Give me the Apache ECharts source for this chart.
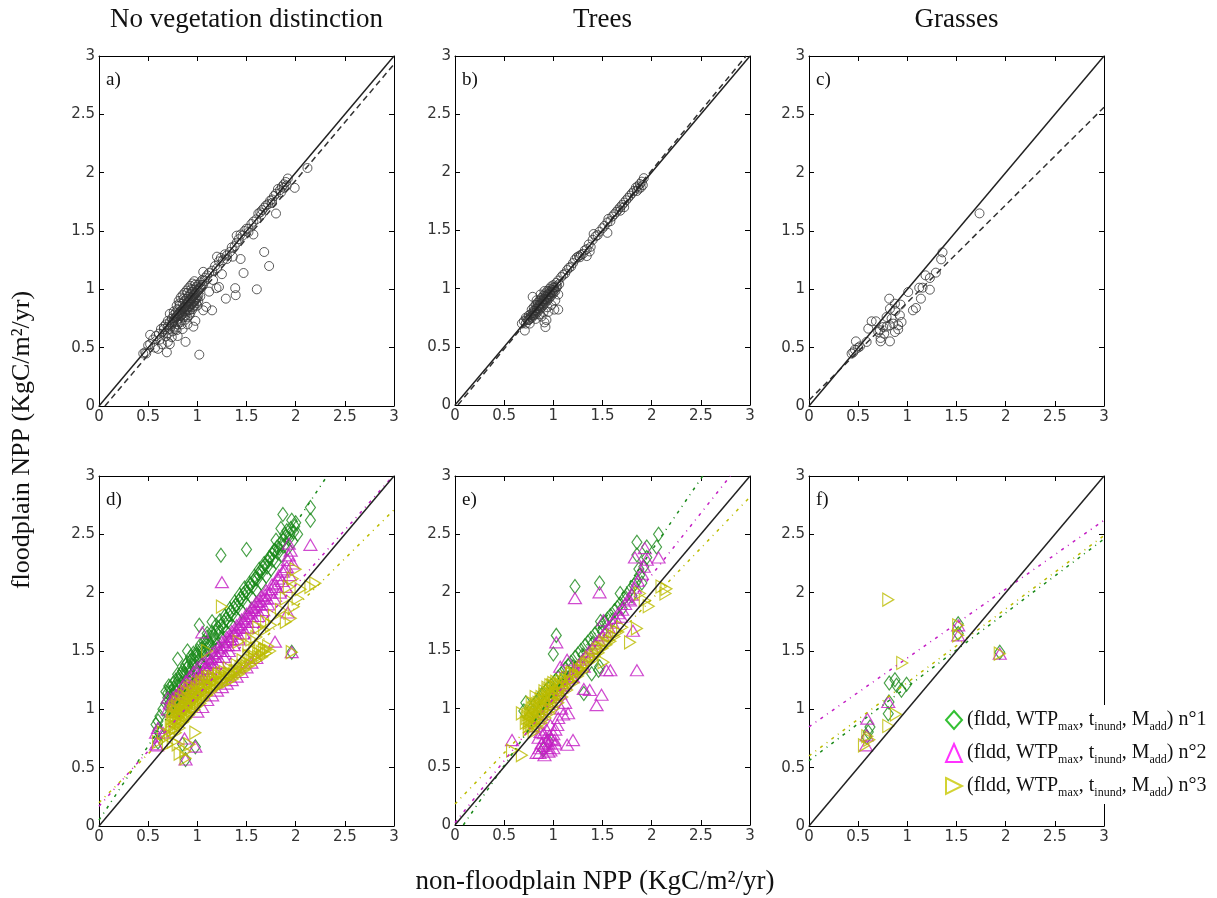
<!DOCTYPE html>
<html>
<head>
<meta charset="utf-8">
<title>floodplain NPP</title>
<script src="https://cdn.jsdelivr.net/npm/echarts@6/dist/echarts.min.js"></script>
<style>
html, body { margin: 0; padding: 0; background: #fff; }
#chart { width: 1217px; height: 898px; }
</style>
</head>
<body>
<div id="chart"></div>
<script>
// 列标题 / 子图编号
var columnTitles = ['No vegetation distinction', 'Trees', 'Grasses'];
var panelLabels = ['a)', 'b)', 'c)', 'd)', 'e)', 'f)'];
var legendNames = ['n°1', 'n°2', 'n°3'];
var axisTicks = [0, 0.5, 1, 1.5, 2, 2.5, 3];

// 1:1 线
var oneToOne = [[0, 0], [3, 3]];

// a) 不分植被
var aPoints = [
    [0.66,0.66],[0.68,0.70],[0.70,0.68],[0.72,0.72],[0.72,0.66],[0.74,0.75],[0.74,0.70],[0.76,0.73],[0.76,0.78],[0.77,0.68],
    [0.78,0.76],[0.78,0.80],[0.79,0.72],[0.80,0.78],[0.80,0.83],[0.81,0.75],[0.82,0.80],[0.82,0.86],[0.83,0.72],[0.84,0.82],
    [0.84,0.78],[0.85,0.88],[0.86,0.84],[0.86,0.76],[0.87,0.90],[0.88,0.86],[0.88,0.80],[0.89,0.92],[0.90,0.88],[0.90,0.82],
    [0.91,0.94],[0.92,0.90],[0.92,0.85],[0.93,0.96],[0.94,0.92],[0.94,0.87],[0.95,0.98],[0.96,0.94],[0.96,0.89],[0.97,1.00],
    [0.98,0.96],[0.98,0.91],[0.99,1.02],[1.00,0.98],[1.00,0.93],[1.01,1.04],[1.02,1.00],[1.03,1.06],[1.04,1.02],[1.05,1.08],
    [1.06,1.04],[1.08,1.10],[0.79,0.86],[0.81,0.90],[0.83,0.93],[0.85,0.95],[0.87,0.97],[0.89,0.99],[0.91,1.01],[0.93,1.03],
    [0.95,1.05],[0.97,1.07],[0.84,0.70],[0.88,0.74],[0.90,0.76],[0.93,0.80],[0.95,0.83],[0.97,0.86],[0.99,0.88],[1.01,0.90],
    [1.03,0.94],[0.75,0.64],[0.78,0.66],[0.80,0.70],[0.70,0.62],[0.68,0.60],[0.65,0.62],[0.63,0.66],[0.61,0.62],[0.58,0.60],
    [0.55,0.57],[0.52,0.53],[0.50,0.52],[0.47,0.46],[0.45,0.45],[0.48,0.45],[0.52,0.61],[0.60,0.49],[0.64,0.53],[0.69,0.46],
    [0.72,0.53],[0.74,0.59],[0.79,0.65],[0.80,0.60],[0.88,0.55],[0.92,0.78],[0.96,0.68],[0.98,0.73],[1.02,0.44],[1.06,0.82],
    [1.09,0.85],[1.15,0.82],[0.72,0.79],[0.66,0.68],[0.70,0.55],[0.62,0.57],[0.57,0.50],[0.85,0.66],[0.90,0.70],[1.06,1.15],
    [1.10,1.12],[1.12,1.14],[1.15,1.16],[1.18,1.20],[1.20,1.18],[1.22,1.24],[1.24,1.27],[1.20,1.28],[1.26,1.25],[1.28,1.30],
    [1.30,1.29],[1.33,1.32],[1.35,1.36],[1.38,1.37],[1.40,1.40],[1.40,1.46],[1.42,1.43],[1.44,1.47],[1.46,1.46],[1.48,1.50],
    [1.50,1.52],[1.52,1.52],[1.55,1.56],[1.57,1.58],[1.60,1.60],[1.62,1.65],[1.64,1.66],[1.66,1.68],[1.68,1.70],[1.70,1.72],
    [1.72,1.73],[1.74,1.76],[1.76,1.77],[1.78,1.80],[1.80,1.82],[1.82,1.86],[1.84,1.85],[1.86,1.88],[1.88,1.90],[1.90,1.92],
    [1.92,1.95],[1.88,1.87],[1.91,1.89],[1.85,1.83],[1.76,1.74],[1.65,1.64],[1.52,1.49],[1.195,1.01],[1.22,1.02],[1.29,0.92],
    [1.39,0.95],[1.385,1.01],[1.25,1.13],[1.47,1.14],[1.44,1.26],[1.68,1.32],[1.73,1.20],[1.57,1.47],[1.80,1.65],[1.99,1.87],
    [2.12,2.04],[1.605,1.00],[1.12,0.98],[1.16,1.08],[1.30,1.26],[1.36,1.28],
    [0.70,0.73],[0.73,0.68],[0.75,0.72],[0.77,0.75],[0.79,0.77],[0.80,0.74],[0.81,0.79],[0.83,0.81],[0.83,0.77],[0.85,0.83],
    [0.85,0.79],[0.87,0.85],[0.87,0.81],[0.89,0.87],[0.89,0.83],[0.91,0.89],[0.91,0.85],[0.93,0.91],[0.93,0.87],[0.95,0.93],
    [0.95,0.88],[0.97,0.95],[0.97,0.90],[0.99,0.97],[0.99,0.92],[1.01,0.99],[1.01,0.95],[1.03,1.01],[1.05,1.04],[1.07,1.07],
    [0.86,0.92],[0.90,0.97],[0.94,1.00],[0.98,1.04],[0.82,0.88],[0.76,0.81],[0.88,0.78],[0.92,0.82],[0.96,0.85],[1.00,0.86]
];
var aFit = [[0.06, 0], [3, 2.93]];

// b) 树木
var bPoints = [
    [0.68,0.70],[0.70,0.72],[0.72,0.70],[0.72,0.75],[0.74,0.73],[0.75,0.77],[0.76,0.74],[0.77,0.78],[0.78,0.75],[0.78,0.82],
    [0.79,0.79],[0.80,0.77],[0.80,0.84],[0.81,0.81],[0.82,0.78],[0.82,0.86],[0.83,0.83],[0.84,0.80],[0.84,0.88],[0.85,0.85],
    [0.86,0.82],[0.86,0.90],[0.87,0.87],[0.88,0.84],[0.88,0.92],[0.89,0.89],[0.90,0.86],[0.90,0.94],[0.91,0.91],[0.92,0.88],
    [0.92,0.96],[0.93,0.93],[0.94,0.90],[0.94,0.98],[0.95,0.95],[0.96,0.92],[0.96,1.00],[0.97,0.97],[0.98,0.94],[0.98,1.02],
    [0.99,0.99],[1.00,0.96],[1.00,1.03],[1.01,1.01],[1.02,0.98],[1.03,1.05],[1.04,1.02],[1.05,1.07],[1.06,1.04],[1.08,1.10],
    [0.86,0.78],[0.90,0.80],[0.94,0.84],[0.98,0.86],[1.02,0.90],[1.05,0.95],[0.76,0.70],[0.82,0.74],[0.79,0.93],[0.71,0.64],
    [0.91,0.71],[0.92,0.67],[0.93,0.73],[1.01,0.82],[1.05,0.82],[0.88,0.76],[0.95,0.80],[0.83,0.90],[0.87,0.95],[0.91,0.98],
    [1.10,1.12],[1.12,1.13],[1.14,1.16],[1.16,1.18],[1.18,1.19],[1.20,1.22],[1.22,1.25],[1.24,1.27],[1.26,1.28],[1.28,1.29],
    [1.30,1.30],[1.32,1.33],[1.34,1.34],[1.36,1.38],[1.38,1.36],[1.40,1.42],[1.41,1.47],[1.43,1.45],[1.45,1.46],[1.47,1.49],
    [1.50,1.52],[1.52,1.54],[1.55,1.57],[1.56,1.60],[1.55,1.48],[1.58,1.58],[1.60,1.62],[1.62,1.64],[1.64,1.66],[1.66,1.68],
    [1.68,1.70],[1.70,1.72],[1.72,1.74],[1.74,1.76],[1.76,1.78],[1.78,1.80],[1.80,1.82],[1.82,1.84],[1.84,1.87],[1.86,1.88],
    [1.88,1.90],[1.90,1.92],[1.92,1.95],[1.89,1.87],[1.91,1.89],[1.87,1.86],[1.85,1.84],[1.37,1.32],[1.34,1.28],[1.27,1.27],
    [1.72,1.70],[1.68,1.67],
    [0.73,0.74],[0.75,0.73],[0.77,0.76],[0.79,0.77],[0.81,0.79],[0.83,0.81],[0.85,0.83],[0.87,0.85],[0.89,0.87],[0.91,0.89],
    [0.93,0.91],[0.95,0.93],[0.97,0.95],[0.99,0.97],[1.01,0.99],[1.03,1.01],[0.80,0.81],[0.84,0.86],[0.88,0.90],[0.92,0.94],
    [0.96,0.98],[1.00,1.01],[0.86,0.86],[0.90,0.91],[0.94,0.95]
];
var bFit = [[0.03, 0], [2.96, 3]];

// c) 草地
var cPoints = [
    [1.734,1.651],[1.358,1.317],[1.344,1.257],[1.29,1.143],[1.185,1.12],[1.229,1.097],[1.229,0.997],[1.121,1.014],[1.155,1.014],[1.138,0.92],
    [1.087,0.84],[1.057,0.82],[1.009,0.977],[0.816,0.92],[0.931,0.869],[0.941,0.72],[0.924,0.777],[0.877,0.814],[0.874,0.877],[0.823,0.834],
    [0.84,0.749],[0.789,0.763],[0.823,0.691],[0.874,0.634],[0.823,0.554],[0.728,0.554],[0.728,0.583],[0.721,0.649],[0.681,0.726],[0.637,0.726],
    [0.603,0.663],[0.755,0.677],[0.79,0.68],[0.765,0.62],[0.907,0.657],[0.907,0.691],[0.586,0.549],[0.477,0.554],[0.518,0.511],[0.467,0.483],
    [0.433,0.449],[0.50,0.50],[0.704,0.634],[0.857,0.706],[0.45,0.46]
];
var cFit = [[0, 0.05], [3, 2.56]];

// d) 不分植被, 三组参数
var dGreen = [
    [0.58,0.87],[0.60,0.82],[0.60,0.90],[0.62,0.94],[0.65,1.00],[0.68,1.05],[0.68,1.15],[0.70,1.10],[0.72,1.18],[0.72,1.05],
    [0.74,1.12],[0.75,1.22],[0.76,1.08],[0.78,1.15],[0.78,1.25],[0.80,1.20],[0.80,1.30],[0.82,1.12],[0.82,1.28],[0.84,1.22],
    [0.85,1.33],[0.86,1.18],[0.88,1.30],[0.88,1.38],[0.90,1.25],[0.90,1.40],[0.92,1.33],[0.93,1.45],[0.94,1.28],[0.95,1.38],
    [0.96,1.48],[0.98,1.35],[0.98,1.45],[1.00,1.50],[1.00,1.30],[1.02,1.42],[1.03,1.55],[1.05,1.38],[1.05,1.48],[1.07,1.58],
    [1.08,1.45],[1.10,1.52],[1.10,1.62],[1.12,1.42],[1.13,1.56],[1.15,1.66],[1.16,1.50],[1.18,1.60],[1.19,1.72],[1.20,1.55],
    [1.22,1.66],[1.23,1.76],[1.25,1.60],[1.26,1.70],[1.28,1.80],[1.30,1.66],[1.31,1.75],[1.33,1.86],[1.35,1.72],[1.36,1.82],
    [1.38,1.92],[1.40,1.78],[1.41,1.88],[1.43,1.98],[1.45,1.84],[1.46,1.94],[1.48,2.04],[1.50,1.90],[1.51,2.00],[1.53,2.08],
    [1.55,1.96],[1.56,2.05],[1.58,2.14],[1.60,2.02],[1.61,2.12],[1.63,2.20],[1.65,2.08],[1.66,2.18],[1.68,2.25],[1.70,2.14],
    [1.71,2.22],[1.73,2.30],[1.75,2.20],[1.77,2.28],[1.78,2.36],[1.80,2.26],[1.82,2.34],[1.84,2.42],[1.86,2.32],[1.88,2.40],
    [1.90,2.48],[1.92,2.38],[1.93,2.46],[1.95,2.55],[1.97,2.44],[1.98,2.52],[2.00,2.60],[2.02,2.50],[1.24,2.32],[1.50,2.37],
    [1.87,2.67],[1.96,2.62],[2.15,2.73],[2.15,2.62],[1.15,1.75],[1.10,1.65],[1.02,1.72],[0.90,1.50],[0.80,1.43],[0.71,1.20],
    [1.96,1.49],[0.88,0.57],[0.62,0.79],[0.60,0.72],[1.80,2.45],[1.85,2.55],[0.85,0.70],[0.98,0.68],
    [0.70,1.14],[0.73,1.15],[0.76,1.18],[0.79,1.22],[0.81,1.25],[0.83,1.30],[0.86,1.30],[0.89,1.35],[0.91,1.37],[0.94,1.42],
    [0.97,1.42],[0.99,1.47],[1.01,1.46],[1.04,1.52],[1.06,1.52],[1.09,1.57],[1.11,1.57],[1.14,1.62],[1.17,1.63],[1.19,1.66],
    [1.21,1.70],[1.24,1.72],[1.27,1.75],[1.29,1.77],[1.32,1.81],[1.34,1.84],[1.37,1.87],[1.39,1.89],[1.42,1.93],[1.44,1.95],
    [1.47,1.99],[1.49,2.01],[1.52,2.04],[1.54,2.07],[1.57,2.10],[1.59,2.12],[1.62,2.16],[1.64,2.18],[1.67,2.22],[1.69,2.24],
    [1.72,2.27],[1.74,2.30],[1.76,2.33],[1.79,2.36],[1.81,2.39],[1.83,2.38],[1.87,2.45],[1.89,2.50],[1.91,2.53],[1.94,2.50],
    [1.99,2.57]
];
var dMagenta = [
    [0.58,0.80],[0.60,0.84],[0.58,0.70],[0.70,1.00],[0.72,1.05],[0.74,0.98],[0.75,1.10],[0.78,1.02],[0.78,1.12],[0.80,1.08],
    [0.82,1.16],[0.84,1.05],[0.85,1.20],[0.86,1.12],[0.88,1.24],[0.90,1.10],[0.90,1.18],[0.92,1.28],[0.94,1.15],[0.95,1.22],
    [0.96,1.32],[0.98,1.18],[1.00,1.26],[1.00,1.36],[1.02,1.22],[1.04,1.30],[1.05,1.40],[1.07,1.26],[1.08,1.35],[1.10,1.44],
    [1.12,1.30],[1.13,1.40],[1.15,1.48],[1.17,1.35],[1.18,1.45],[1.20,1.53],[1.22,1.40],[1.23,1.50],[1.25,1.58],[1.27,1.45],
    [1.28,1.55],[1.30,1.62],[1.32,1.50],[1.33,1.60],[1.35,1.67],[1.37,1.55],[1.38,1.65],[1.40,1.72],[1.42,1.60],[1.43,1.70],
    [1.45,1.77],[1.47,1.65],[1.48,1.75],[1.50,1.82],[1.52,1.70],[1.53,1.80],[1.55,1.87],[1.57,1.75],[1.58,1.85],[1.60,1.92],
    [1.62,1.80],[1.63,1.90],[1.65,1.97],[1.67,1.85],[1.68,1.95],[1.70,2.02],[1.72,1.90],[1.74,2.00],[1.76,2.07],[1.78,1.95],
    [1.80,2.05],[1.82,2.12],[1.84,2.00],[1.86,2.10],[1.88,2.20],[1.90,2.05],[1.92,2.28],[1.94,2.15],[1.95,2.36],[1.97,2.25],
    [1.10,1.08],[1.15,1.12],[1.20,1.16],[1.25,1.19],[1.30,1.22],[1.35,1.25],[1.40,1.28],[1.45,1.32],[1.50,1.36],[1.55,1.40],
    [1.60,1.44],[1.05,1.02],[1.00,0.98],[0.70,1.10],[1.25,2.09],[1.05,1.66],[2.15,2.41],[1.93,2.42],[1.92,1.83],[1.79,1.58],
    [1.96,1.49],[0.88,0.57],[0.98,0.68],[0.87,0.75],[0.59,0.69],[0.65,0.80],
    [0.76,1.04],[0.80,1.13],[0.83,1.10],[0.87,1.18],[0.91,1.22],[0.93,1.20],[0.97,1.26],[1.01,1.30],[1.03,1.27],[1.06,1.33],
    [1.09,1.38],[1.11,1.35],[1.14,1.43],[1.16,1.40],[1.19,1.48],[1.21,1.45],[1.24,1.53],[1.26,1.50],[1.29,1.58],[1.31,1.55],
    [1.34,1.63],[1.36,1.60],[1.39,1.68],[1.41,1.65],[1.44,1.73],[1.46,1.70],[1.49,1.78],[1.51,1.75],[1.54,1.83],[1.56,1.80],
    [1.59,1.88],[1.61,1.85],[1.64,1.93],[1.66,1.90],[1.69,1.98],[1.71,1.95],[1.75,2.03],[1.79,2.08],[1.83,2.15],[1.87,2.18],
    [1.91,2.22],[1.93,2.32]
];
var dYellow = [
    [0.74,0.82],[0.74,0.90],[0.75,0.98],[0.76,0.86],[0.77,0.94],[0.77,1.02],[0.78,0.80],[0.78,0.90],[0.79,0.98],[0.80,1.06],
    [0.80,0.85],[0.81,0.93],[0.82,1.01],[0.83,0.88],[0.83,1.09],[0.84,0.96],[0.85,1.04],[0.86,0.90],[0.86,1.12],[0.87,0.99],
    [0.88,1.07],[0.89,0.93],[0.89,1.15],[0.90,1.02],[0.91,1.10],[0.92,0.96],[0.92,1.18],[0.93,1.05],[0.94,1.13],[0.95,0.99],
    [0.95,1.20],[0.96,1.08],[0.97,1.16],[0.98,1.02],[0.99,1.11],[1.00,1.22],[1.00,1.05],[1.02,1.14],[1.03,1.08],[1.04,1.24],
    [1.05,1.17],[1.06,1.10],[1.08,1.20],[1.09,1.13],[1.10,1.27],[1.12,1.16],[1.13,1.23],[1.15,1.19],[1.16,1.28],[1.18,1.22],
    [1.20,1.25],[1.22,1.30],[1.24,1.27],[1.26,1.22],[1.28,1.32],[1.30,1.27],[1.32,1.35],[1.34,1.30],[1.36,1.26],[1.38,1.33],
    [1.40,1.38],[1.42,1.30],[1.44,1.36],[1.46,1.42],[1.48,1.34],[1.50,1.40],[1.52,1.46],[1.54,1.38],[1.56,1.44],[1.58,1.50],
    [1.60,1.42],[1.62,1.48],[1.64,1.54],[1.66,1.45],[1.68,1.51],[1.70,1.48],[1.72,1.54],[1.74,1.50],[1.52,1.55],[1.60,1.62],
    [1.68,1.68],[1.75,1.72],[1.55,1.60],[1.62,1.70],[1.70,1.75],[1.78,1.80],[1.85,1.85],[1.90,1.95],[1.93,2.05],[1.97,2.12],
    [2.00,2.20],[1.95,1.78],[1.98,1.88],[2.02,1.95],[2.05,2.03],[2.15,2.05],[2.20,2.08],[1.90,1.75],[1.25,1.88],[1.10,1.50],
    [1.42,1.58],[0.60,0.72],[0.70,0.70],[0.75,0.72],[0.80,0.70],[0.82,0.62],[0.88,0.64],[0.92,0.70],[0.98,0.80],[0.72,0.78],
    [0.65,0.80],[1.96,1.49],[0.88,0.58],
    [0.73,0.86],[0.75,0.93],[0.76,1.00],[0.77,0.83],[0.78,0.95],[0.79,1.03],[0.80,0.90],[0.81,0.98],[0.82,0.84],[0.83,0.95],
    [0.84,1.03],[0.85,0.89],[0.86,0.98],[0.87,1.06],[0.88,0.92],[0.89,1.01],[0.90,1.09],[0.91,0.95],[0.92,1.04],[0.93,1.12],
    [0.94,0.98],[0.95,1.07],[0.96,1.15],[0.97,1.00],[0.98,1.09],[0.99,1.17],[1.00,1.03],[1.01,1.12],[1.02,1.20],[1.03,1.05],
    [1.04,1.14],[1.05,1.22],[1.06,1.08],[1.07,1.16],[1.08,1.24],[1.10,1.12],[1.11,1.20],[1.12,1.28],[1.14,1.15],[1.15,1.23],
    [1.17,1.18],[1.18,1.27],[1.20,1.20],[1.21,1.29],[1.23,1.22],[1.25,1.31],[1.27,1.25],[1.29,1.29],[1.31,1.24],[1.33,1.31],
    [1.35,1.28],[1.37,1.30],[1.40,1.33],[1.43,1.33],[1.46,1.37],[1.50,1.37],[1.54,1.42],[1.58,1.45],[1.62,1.45],[1.66,1.49],
    [1.70,1.51]
];
var dGreenFit = [[0, 0.05], [2.32, 3]];
var dMagentaFit = [[0, 0.17], [2.99, 3]];
var dYellowFit = [[0, 0.2], [3, 2.71]];

// e) 树木, 三组参数
var eGreen = [
    [0.80,0.98],[0.82,1.05],[0.85,1.08],[0.88,1.12],[0.90,1.05],[0.92,1.15],[0.95,1.18],[0.98,1.20],[1.00,1.16],[1.02,1.24],
    [1.05,1.27],[1.08,1.30],[1.10,1.26],[1.12,1.34],[1.15,1.37],[1.18,1.40],[1.20,1.36],[1.22,1.44],[1.25,1.47],[1.28,1.50],
    [1.30,1.46],[1.32,1.54],[1.35,1.57],[1.38,1.60],[1.40,1.56],[1.42,1.64],[1.45,1.67],[1.48,1.70],[1.50,1.66],[1.52,1.74],
    [1.55,1.77],[1.58,1.80],[1.60,1.76],[1.62,1.84],[1.65,1.87],[1.68,1.90],[1.70,1.86],[1.72,1.95],[1.75,1.98],[1.78,2.02],
    [1.80,1.97],[1.82,2.06],[1.85,2.10],[1.88,2.15],[1.90,2.08],[1.92,2.22],[1.95,2.30],[1.85,2.32],[1.87,2.20],[1.22,2.05],
    [1.47,2.08],[1.03,1.63],[1.00,1.47],[2.07,2.50],[1.85,2.43],[1.95,2.39],[2.05,2.39],[1.68,1.99],[1.46,1.33],[1.39,1.30],
    [1.31,1.13],[1.47,1.36],[0.72,1.05],[0.70,0.98],[0.90,0.65],[0.95,0.72],[1.48,1.75]
];
var eMagenta = [
    [1.47,2.00],[1.22,1.95],[1.03,1.57],[1.14,1.42],[1.07,1.36],[1.85,1.33],[1.54,1.33],[1.58,1.33],[1.44,1.03],[1.49,1.12],
    [1.37,1.16],[1.31,1.17],[1.15,0.96],[1.20,0.73],[1.14,0.69],[0.83,0.62],[0.86,0.66],[0.97,0.64],[0.93,0.72],[1.02,0.70],
    [0.90,0.79],[0.58,0.73],[1.93,2.38],[1.83,2.30],[1.95,2.28],[2.07,2.30],[1.92,2.22],[1.78,1.93],[1.69,1.79],[1.81,1.67],
    [1.51,1.76],[1.31,1.36],[1.20,1.27],[1.07,1.13],[0.80,0.85],[0.85,0.92],[0.88,0.95],[0.92,1.00],[0.95,1.04],[0.98,1.06],
    [1.00,1.10],[1.02,1.12],[1.05,1.16],[1.08,1.18],[1.10,1.20],[1.12,1.22],[1.15,1.26],[1.18,1.28],[1.20,1.32],[1.22,1.34],
    [1.25,1.37],[1.28,1.40],[1.30,1.42],[1.33,1.45],[1.36,1.49],[1.40,1.52],[1.43,1.56],[1.46,1.59],[1.50,1.63],[1.53,1.66],
    [1.56,1.70],[1.60,1.74],[1.63,1.78],[1.66,1.82],[1.70,1.85],[1.73,1.90],[1.76,1.94],[1.80,1.98],[1.83,2.04],[1.86,2.10],
    [1.90,2.16],[0.85,0.75],[0.88,0.70],[0.90,0.68],[0.92,0.75],[0.95,0.70],[0.98,0.74],[1.00,0.78],[1.02,0.82],[0.87,0.80],
    [0.93,0.82],[0.97,0.86],[1.05,0.92],[1.08,1.00],[1.12,1.05],[1.10,0.95],[0.86,0.62],[0.91,0.60],[0.95,0.63],[1.00,0.66],
    [0.96,0.77],[1.04,0.86],[1.01,0.73],[0.94,0.66]
];
var eYellow = [
    [0.72,0.88],[0.74,0.95],[0.75,0.82],[0.76,0.90],[0.77,0.98],[0.78,0.85],[0.79,0.93],[0.80,1.01],[0.80,0.80],[0.81,0.88],
    [0.82,0.96],[0.83,1.04],[0.84,0.84],[0.85,0.92],[0.86,1.00],[0.87,1.08],[0.88,0.88],[0.89,0.96],[0.90,1.04],[0.91,1.12],
    [0.92,0.92],[0.93,1.00],[0.94,1.08],[0.95,1.16],[0.96,0.96],[0.97,1.04],[0.98,1.12],[0.99,1.20],[1.00,1.00],[1.01,1.08],
    [1.02,1.16],[1.03,1.23],[1.05,1.05],[1.06,1.12],[1.07,1.20],[1.09,1.10],[1.10,1.18],[1.12,1.25],[1.14,1.16],[1.16,1.24],
    [1.18,1.30],[1.20,1.22],[1.22,1.30],[1.25,1.28],[1.28,1.34],[1.30,1.32],[1.33,1.38],[1.36,1.40],[1.40,1.42],[1.43,1.47],
    [1.46,1.48],[1.50,1.52],[1.54,1.55],[1.58,1.58],[1.62,1.62],[1.66,1.66],[1.70,1.70],[0.78,1.05],[0.82,1.10],[2.14,1.99],
    [2.10,2.05],[2.15,2.03],[1.97,1.88],[1.93,1.93],[1.78,1.57],[1.51,1.40],[0.68,0.60],[0.58,0.64],[0.68,0.96],[1.85,1.69],
    [1.88,1.99],
    [0.73,0.92],[0.75,0.88],[0.76,0.96],[0.77,0.86],[0.78,0.92],[0.79,1.00],[0.80,0.87],[0.81,0.95],[0.82,1.02],[0.83,0.90],
    [0.84,0.98],[0.85,1.05],[0.86,0.94],[0.87,1.02],[0.88,1.10],[0.89,0.98],[0.90,1.07],[0.91,1.15],[0.92,1.02],[0.93,1.10],
    [0.94,1.18],[0.95,1.05],[0.96,1.13],[0.97,1.20],[0.98,1.08],[0.99,1.15],[1.00,1.22],[1.01,1.11],[1.02,1.19],[1.04,1.13],
    [1.05,1.21],[1.07,1.15],[1.08,1.24],[1.10,1.22],[1.12,1.20],[1.14,1.27],[1.17,1.24],[1.19,1.31],[1.23,1.30],[1.26,1.34],
    [1.30,1.36],[1.34,1.39],[1.38,1.44],[1.42,1.45],[1.45,1.51],[1.48,1.52],[1.52,1.57],[1.56,1.59],[1.60,1.63],[1.64,1.67]
];
var eGreenFit = [[0.085, 0], [2.52, 3]];
var eMagentaFit = [[0, 0.02], [2.80, 3]];
var eYellowFit = [[0, 0.18], [3, 2.82]];

// f) 草地, 三组参数
var fGreen = [
    [0.816,1.226],[0.874,1.254],[0.89,1.206],[0.992,1.214],[0.94,1.163],[0.806,0.963],[0.813,1.063],[0.62,0.849],[0.603,0.806],[0.586,0.763],
    [1.517,1.734],[1.517,1.649],[1.94,1.49]
];
var fMagenta = [
    [0.593,0.92],[0.806,1.063],[0.579,0.691],[1.517,1.72],[1.517,1.634],[1.94,1.477],[0.586,0.777]
];
var fYellow = [
    [0.806,1.94],[0.948,1.397],[0.884,0.957],[0.806,0.857],[0.559,0.691],[0.613,0.74],[0.593,0.769],[1.517,1.72],[1.517,1.634],[1.94,1.477]
];
var fGreenFit = [[0, 0.56], [3, 2.46]];
var fMagentaFit = [[0, 0.85], [3, 2.62]];
var fYellowFit = [[0, 0.6], [3, 2.49]];

// 布局 (left, top, width, height)
var gridBoxes = [
    [99, 56, 295, 350], [455, 56, 295, 349], [809, 56, 295, 350],
    [99, 476, 295, 350], [455, 476, 295, 349], [809, 476, 295, 350]
];

var serif = '"Liberation Serif", "DejaVu Serif", serif';
var sans = '"DejaVu Sans", sans-serif';
var green = '#1a8a1a', magenta = '#c41ec4', yellow = '#bcbc00';
var rightTri = 'path://M0,0L10,5L0,10Z';

var myChart = echarts.init(document.getElementById('chart'));

var grids = [], xAxes = [], yAxes = [], series = [], graphics = [];

function baseAxis(gridIndex, position, showLabel) {
    return {
        type: 'value',
        gridIndex: gridIndex,
        position: position,
        min: axisTicks[0],
        max: axisTicks[axisTicks.length - 1],
        interval: axisTicks[1] - axisTicks[0],
        axisLine: { show: true, onZero: false, lineStyle: { color: '#000', width: 1 } },
        axisTick: { show: true, inside: true, length: 5, lineStyle: { color: '#000', width: 1 } },
        splitLine: { show: false },
        axisLabel: {
            show: showLabel,
            margin: 4,
            color: '#333',
            fontSize: 15,
            fontFamily: sans
        }
    };
}

function scatterSeries(i, name, data, symbol, size, color, width, z) {
    return {
        type: 'scatter',
        name: name,
        xAxisIndex: 2 * i,
        yAxisIndex: 2 * i,
        data: data,
        symbol: symbol,
        symbolSize: size,
        silent: true,
        z: z,
        itemStyle: { color: 'rgba(0,0,0,0)', borderColor: color, borderWidth: width }
    };
}

function lineSeries(i, data, color, type, width, z) {
    return {
        type: 'line',
        xAxisIndex: 2 * i,
        yAxisIndex: 2 * i,
        data: data,
        symbol: 'none',
        silent: true,
        clip: true,
        z: z,
        lineStyle: { color: color, type: type, width: width }
    };
}

for (var i = 0; i < gridBoxes.length; i++) {
    var b = gridBoxes[i];
    grids.push({ left: b[0], top: b[1], width: b[2], height: b[3] });
    xAxes.push(baseAxis(i, 'bottom', true));
    xAxes.push(baseAxis(i, 'top', false));
    yAxes.push(baseAxis(i, 'left', true));
    yAxes.push(baseAxis(i, 'right', false));
    graphics.push({
        type: 'text',
        left: b[0] + 7,
        top: b[1] + 15,
        style: { text: panelLabels[i], font: '19px ' + serif, fill: '#111' }
    });
}

// 上排: 黑色空心圆 + 虚线回归
var topPoints = [aPoints, bPoints, cPoints];
var topFits = [aFit, bFit, cFit];
for (var k = 0; k < 3; k++) {
    series.push(scatterSeries(k, 'obs' + k, topPoints[k], 'circle', 9, '#333', 1, 2));
    series.push(lineSeries(k, topFits[k], '#333', [6, 4], 1.5, 3));
    series.push(lineSeries(k, oneToOne, '#222', 'solid', 1.5, 4));
}

// 下排: 三组参数
var botGreen = [dGreen, eGreen, fGreen];
var botMagenta = [dMagenta, eMagenta, fMagenta];
var botYellow = [dYellow, eYellow, fYellow];
var botGreenFit = [dGreenFit, eGreenFit, fGreenFit];
var botMagentaFit = [dMagentaFit, eMagentaFit, fMagentaFit];
var botYellowFit = [dYellowFit, eYellowFit, fYellowFit];
var dashDot = [3, 5, 1, 5];
for (var k = 0; k < 3; k++) {
    var gi = k + 3;
    series.push(scatterSeries(gi, legendNames[0], botGreen[k], 'diamond', [10, 14], green, 1.2, 2));
    series.push(scatterSeries(gi, legendNames[1], botMagenta[k], 'triangle', [13, 11], magenta, 1.2, 2));
    series.push(scatterSeries(gi, legendNames[2], botYellow[k], rightTri, [11, 13], yellow, 1.2, 2));
    series.push(lineSeries(gi, botGreenFit[k], green, dashDot, 1.5, 3));
    series.push(lineSeries(gi, botMagentaFit[k], magenta, dashDot, 1.5, 3));
    series.push(lineSeries(gi, botYellowFit[k], yellow, dashDot, 1.5, 3));
    series.push(lineSeries(gi, oneToOne, '#222', 'solid', 1.5, 4));
}

// 列标题和坐标轴标题
for (var c = 0; c < 3; c++) {
    graphics.push({
        type: 'text',
        x: gridBoxes[c][0] + gridBoxes[c][2] / 2,
        y: 20,
        style: { text: columnTitles[c], font: '27px ' + serif, fill: '#111', align: 'center', verticalAlign: 'middle' }
    });
}
graphics.push({
    type: 'text',
    x: 595,
    y: 882,
    style: { text: 'non-floodplain NPP (KgC/m²/yr)', font: '27px ' + serif, fill: '#111', align: 'center', verticalAlign: 'middle' }
});
graphics.push({
    type: 'text',
    x: 22,
    y: 440,
    rotation: Math.PI / 2,
    style: { text: 'floodplain NPP (KgC/m²/yr)', font: '26px ' + serif, fill: '#111', align: 'center', verticalAlign: 'middle' }
});

var option = {
    animation: false,
    backgroundColor: '#fff',
    grid: grids,
    xAxis: xAxes,
    yAxis: yAxes,
    series: series,
    graphic: graphics,
    legend: {
        orient: 'vertical',
        left: 941,
        top: 705,
        padding: [5, 6, 5, 4],
        itemGap: 10,
        itemWidth: 16,
        itemHeight: 18,
        backgroundColor: '#fff',
        z: 10,
        selectedMode: false,
        data: [
            { name: legendNames[0], icon: 'diamond', itemStyle: { color: 'rgba(0,0,0,0)', borderColor: '#00b000', borderWidth: 2 } },
            { name: legendNames[1], icon: 'triangle', itemStyle: { color: 'rgba(0,0,0,0)', borderColor: '#ff00ff', borderWidth: 2 } },
            { name: legendNames[2], icon: rightTri, itemStyle: { color: 'rgba(0,0,0,0)', borderColor: '#c8c800', borderWidth: 2 } }
        ],
        formatter: function (name) {
            return '{m|(fldd, WTP}{s|max}{m|, t}{s|inund}{m|, M}{s|add}{m|) ' + name + '}';
        },
        textStyle: {
            color: '#111',
            fontFamily: serif,
            rich: {
                m: { fontSize: 20, fontFamily: serif, color: '#111', lineHeight: 26, verticalAlign: 'middle' },
                s: { fontSize: 12, fontFamily: serif, color: '#111', lineHeight: 12, verticalAlign: 'bottom' }
            }
        }
    }
};

myChart.setOption(option);
window.addEventListener('resize', function () { myChart.resize(); });
</script>
</body>
</html>
